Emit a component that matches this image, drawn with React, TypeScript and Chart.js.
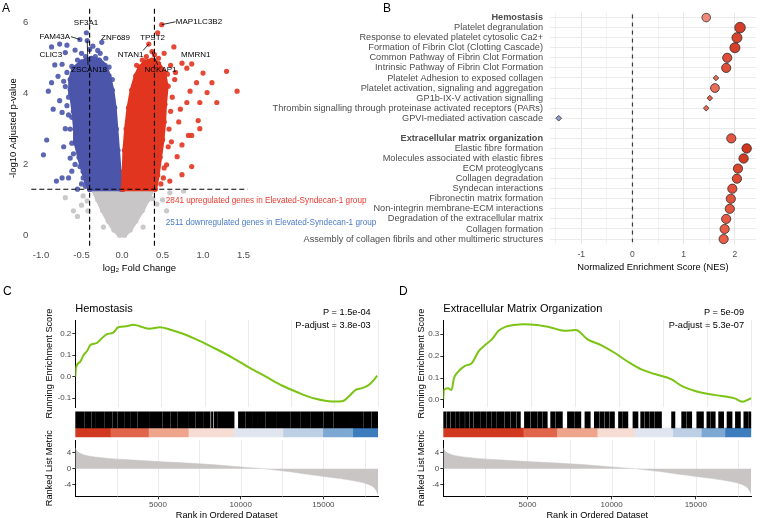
import React, { useEffect, useRef } from 'react';
import { Chart, registerables } from 'chart.js';

Chart.register(...registerables);

const FONT = "'Liberation Sans', Arial, Helvetica, sans-serif";
const AXIS_TEXT = '#4d4d4d';

/* ---------------- A: volcano plot (log2 fold change vs -log10 adjusted p) ---------------- */
const log2fcCutoff = 0.4;
const padjCutoff = 1.3;
const upCount = 2841;
const downCount = 2511;

// outlines of the dense point clouds
const downCloud = [
  [-0.40, 1.30], [-0.44, 1.5], [-0.48, 1.8], [-0.53, 2.2], [-0.57, 2.6], [-0.58, 3.0], [-0.60, 3.5],
  [-0.63, 4.0], [-0.64, 4.4], [-0.60, 4.7], [-0.50, 4.9], [-0.38, 5.0], [-0.28, 4.95], [-0.21, 4.8],
  [-0.16, 4.5], [-0.12, 4.1], [-0.09, 3.6], [-0.07, 3.0], [-0.05, 2.4], [-0.03, 1.8], [-0.01, 1.3],
];
const upCloud = [
  [0.01, 1.3], [0.02, 1.8], [0.03, 2.4], [0.05, 3.0], [0.08, 3.6], [0.12, 4.1], [0.17, 4.5],
  [0.22, 4.75], [0.29, 4.9], [0.37, 4.95], [0.45, 4.85], [0.52, 4.6], [0.55, 4.2], [0.53, 3.7],
  [0.52, 3.2], [0.50, 2.7], [0.47, 2.2], [0.44, 1.7], [0.41, 1.3],
];
const nsCloud = [
  [-0.36, 1.3], [-0.30, 1.0], [-0.24, 0.7], [-0.17, 0.4], [-0.10, 0.15], [-0.03, 0.0], [0.03, 0.0],
  [0.10, 0.15], [0.17, 0.4], [0.25, 0.7], [0.32, 1.0], [0.38, 1.3],
];

// scattered genes outside the dense clouds
const downGenes = [
  [-0.87, 5.32], [-0.68, 5.37], [-0.36, 5.34], [-0.58, 5.23], [-0.27, 5.14], [-0.70, 5.16],
  [-0.50, 5.14], [-0.83, 4.81], [-0.74, 4.83], [-0.62, 4.77], [-0.87, 4.31], [-0.79, 4.49],
  [-0.72, 4.35], [-0.91, 4.07], [-0.64, 4.12], [-0.77, 3.80], [-0.68, 3.66], [-0.74, 3.47],
  [-0.62, 3.33], [-0.85, 3.56], [-0.93, 2.69], [-0.70, 3.01], [-0.56, 2.82], [-0.97, 2.27],
  [-0.72, 2.50], [-0.55, 2.64], [-0.64, 2.18], [-0.52, 1.94], [-0.62, 1.81], [-0.74, 1.62],
  [-0.81, 1.53], [-0.66, 1.62], [-0.55, 1.30], [-0.48, 1.62], [-0.33, 5.05], [-0.40, 5.25],
  [-0.20, 5.0], [-0.60, 4.55], [-0.66, 3.9], [-0.64, 3.0], [-0.60, 2.3], [-0.58, 2.0],
  [-0.45, 5.05], [-0.30, 5.22], [-0.55, 4.95], [-0.68, 4.6], [-0.70, 4.2], [-0.66, 3.4],
  [-0.62, 2.6], [-0.50, 1.45], [-0.45, 1.38], [-0.16, 4.75], [-0.12, 4.4],
];
const upGenes = [
  [0.52, 5.14], [0.74, 4.86], [0.86, 4.84], [0.80, 4.72], [1.00, 4.58], [1.29, 4.63], [1.42, 4.07],
  [0.92, 4.31], [1.11, 4.31], [1.05, 4.03], [0.84, 4.07], [0.80, 3.75], [0.96, 3.75], [1.17, 3.75],
  [0.72, 3.56], [0.94, 3.24], [0.96, 3.01], [0.82, 2.82], [0.65, 4.40], [0.57, 4.21], [0.86, 2.82],
  [0.74, 2.55], [0.61, 2.64], [0.86, 1.94], [0.74, 1.71], [0.59, 1.53], [0.55, 1.99], [0.68, 2.22],
  [0.51, 1.62], [0.60, 4.8], [0.45, 5.0], [0.25, 4.95], [0.62, 3.9], [0.70, 3.2], [0.58, 3.0], [0.66, 4.6],
  [0.30, 5.05], [0.40, 5.1], [0.18, 4.8], [0.56, 4.55], [0.60, 3.5], [0.57, 2.5], [0.52, 1.9], [0.48, 1.45],
];
const nsGenes = [
  [-0.70, 1.06], [-0.60, 0.69], [-0.55, 0.53], [-0.42, 0.69], [-0.43, 0.97], [0.59, 1.20], [0.76, 1.25],
  [0.55, 0.69], [0.43, 0.88], [-0.23, 0.23], [0.26, 0.23], [0.38, 1.03], [-0.48, 1.11], [0.50, 1.0], [-0.50, 0.85],
];

// labelled genes
const labelledGenes = ['MAP1LC3B2', 'TPST2', 'NTAN1', 'NCKAP1', 'MMRN1', 'SF3A1', 'FAM43A', 'ZNF689', 'CLIC3', 'ZSCAN18'];
const labelledFC = [0.49, 0.44, 0.33, 0.37, 0.64, -0.44, -0.52, -0.25, -0.77, -0.43];
const labelledP = [5.95, 5.72, 5.40, 5.19, 5.32, 5.72, 5.53, 5.45, 5.40, 5.50];

/* ---------------- B: NES of Reactome pathways ---------------- */
const headerPathways = ['Hemostasis', 'Extracellular matrix organization'];
const pathwayLabels = [
  'Hemostasis',
  'Platelet degranulation',
  'Response to elevated platelet cytosolic Ca2+',
  'Formation of Fibrin Clot (Clotting Cascade)',
  'Common Pathway of Fibrin Clot Formation',
  'Intrinsic Pathway of Fibrin Clot Formation',
  'Platelet Adhesion to exposed collagen',
  'Platelet activation, signaling and aggregation',
  'GP1b-IX-V activation signalling',
  'Thrombin signalling through proteinase activated receptors (PARs)',
  'GPVI-mediated activation cascade',
  '',
  'Extracellular matrix organization',
  'Elastic fibre formation',
  'Molecules associated with elastic fibres',
  'ECM proteoglycans',
  'Collagen degradation',
  'Syndecan interactions',
  'Fibronectin matrix formation',
  'Non-integrin membrane-ECM interactions',
  'Degradation of the extracellular matrix',
  'Collagen formation',
  'Assembly of collagen fibrils and other multimeric structures',
];
const nesValues: (number | null)[] = [
  1.44, 2.10, 2.04, 2.00, 1.85, 1.83, 1.63, 1.61, 1.51, 1.44, -1.44, null,
  1.93, 2.23, 2.17, 2.06, 2.04, 1.95, 1.92, 1.90, 1.83, 1.80, 1.78,
];
const nesSignificant = [
  true, true, true, true, true, true, false, true, false, false, false, false,
  true, true, true, true, true, true, true, true, true, true, true,
];

/* ---------------- C / D: GSEA running score plots ---------------- */
const rankMax = 18300;

const hemoRank = [0, 40, 280, 480, 720, 920, 1285, 1486, 1888, 2289, 2590, 3092, 3494, 3895, 4498, 5100, 5703, 6506, 7510, 8514, 9518, 10522, 11526, 12530, 13534, 14538, 15542, 16145, 16546, 16948, 17349, 17751, 18052, 18253];
const hemoES = [0, 0.042, 0.068, 0.098, 0.121, 0.148, 0.156, 0.170, 0.197, 0.205, 0.230, 0.235, 0.242, 0.235, 0.223, 0.230, 0.220, 0.200, 0.167, 0.129, 0.088, 0.042, 0.0, -0.042, -0.076, -0.103, -0.115, -0.114, -0.091, -0.061, -0.053, -0.038, -0.015, 0.005];
const hemoHits = [
  [0, 524], [564, 966], [1006, 1227], [1267, 1729], [1769, 2231], [2271, 2532], [2572, 2934], [2974, 3295],
  [3335, 3737], [3777, 4440], [4480, 5243], [5283, 5745], [5785, 6147], [6187, 6850], [6890, 7251],
  [7291, 7753], [7793, 8154], [8230, 8320], [8395, 8556], [8596, 9600], [9861, 10263], [10303, 10665],
  [10705, 10966], [11006, 11468], [11508, 12170], [12210, 12974], [13014, 13576], [13616, 14179],
  [14219, 14982], [15022, 15584], [15624, 16588], [16628, 17391], [17431, 17893], [17933, 18300],
];
const hemoBins = [0, 2150, 4460, 6870, 9580, 12590, 15000, 16810, 18300];

const ecmRank = [0, 30, 290, 490, 630, 890, 1288, 1687, 2086, 2485, 2885, 3284, 3683, 4182, 4781, 5579, 6378, 7176, 7875, 8573, 9372, 10170, 10968, 11767, 12565, 13563, 14162, 14960, 15759, 16557, 17356, 17755, 18300];
const ecmES = [0.003, 0.045, 0.053, 0.045, 0.098, 0.129, 0.155, 0.167, 0.22, 0.25, 0.276, 0.315, 0.333, 0.341, 0.345, 0.341, 0.33, 0.315, 0.318, 0.276, 0.25, 0.215, 0.174, 0.139, 0.118, 0.094, 0.064, 0.041, 0.027, 0.018, 0.006, -0.008, 0.008];
const ecmHits = [
  [0, 165], [215, 405], [455, 724], [774, 963], [1013, 1263], [1313, 1522], [1572, 1762], [1812, 2161],
  [2211, 2560], [2610, 2860], [2910, 3159], [3209, 3598], [3648, 3957], [4007, 4317], [4367, 4581],
  [4821, 5155], [5205, 5554], [5604, 5854], [5904, 6178], [6378, 6652], [6702, 7076], [7376, 7750],
  [7800, 8174], [8414, 8733], [8972, 9247], [9297, 9546], [9596, 9846], [9896, 10170], [10410, 10644],
  [10694, 10968], [11268, 11567], [11727, 11941], [11991, 12241], [12291, 12540], [12590, 12964],
  [13563, 13763], [14162, 14436], [14486, 14761], [15060, 15459], [15659, 15834], [15884, 16158],
  [16358, 16657], [16857, 17156], [17356, 17655], [17855, 18089], [18139, 18300],
];
const ecmBins = [0, 4780, 6780, 9180, 11370, 13670, 15370, 16770, 18300];

const metricRank = [0, 50, 150, 300, 600, 1000, 1500, 2000, 3000, 4000, 5000, 6000, 7000, 8000, 9000, 10000, 11000, 11400, 12000, 13000, 14000, 15000, 16000, 17000, 17600, 18000, 18200, 18300];
const metricValue = [5.3, 4.8, 4.3, 3.9, 3.4, 3.1, 2.8, 2.6, 2.3, 2.05, 1.8, 1.6, 1.35, 1.1, 0.8, 0.45, 0.1, 0.0, -0.3, -0.8, -1.4, -1.95, -2.5, -3.2, -3.8, -4.6, -5.6, -6.6];
const rankTicks = [5000, 10000, 15000];

/* ---------------- styling ---------------- */
const BLUE = '#4b55aa';
const RED = '#e2351f';
const GREY = '#c8c6c6';
const stripColors = ['#d0391f', '#e0654a', '#eea58c', '#f6dcd2', '#e1e5ef', '#bccfe4', '#7ea8d4', '#3d7dbe'];
const nesColors = [
  '#f08a78', '#d43d27', '#d8432d', '#d6402a', '#df4d36', '#df4e37', '#e96c57', '#ec6d58', '#e7604b', '#ea6a55', '#8f9ccc', '',
  '#e4563f', '#cf351f', '#d23a24', '#dc462f', '#df4a33', '#e25039', '#e3533c', '#e4553e', '#e65a43', '#e75c45', '#e85e47',
];
const nesRadius = [4.3, 5.3, 5.0, 5.0, 4.6, 4.6, 2.8, 4.4, 2.8, 2.8, 2.8, 0, 4.6, 4.7, 4.7, 4.6, 4.6, 4.6, 4.6, 4.6, 4.6, 4.6, 4.6];

// label text centre and optional leader end (data units) for the labelled genes
const geneLabelPlacement: { tx: number; ty: number; lx?: number; ly?: number }[] = [
  { tx: 0.95, ty: 6.03, lx: 0.66, ly: 6.03 },
  { tx: 0.377, ty: 5.58 },
  { tx: 0.105, ty: 5.11, lx: 0.26, ly: 5.22 },
  { tx: 0.475, ty: 4.67, lx: 0.44, ly: 4.81 },
  { tx: 0.91, ty: 5.11 },
  { tx: -0.444, ty: 6.0 },
  { tx: -0.83, ty: 5.61, lx: -0.63, ly: 5.61 },
  { tx: -0.08, ty: 5.58 },
  { tx: -0.88, ty: 5.11 },
  { tx: -0.407, ty: 4.67, lx: -0.42, ly: 4.81 },
];

const baseOptions = {
  responsive: false,
  maintainAspectRatio: false,
  animation: false as const,
  devicePixelRatio: 1,
  events: [] as any[],
  plugins: { legend: { display: false }, tooltip: { enabled: false } },
};

const pts = (arr: number[][]) => arr.map(([x, y]) => ({ x, y }));

/* ---------------- A config ---------------- */
const volcanoOverlay = {
  id: 'volcanoOverlay',
  afterDatasetsDraw(chart: any) {
    const { ctx, chartArea: a } = chart;
    const sx = chart.scales.x;
    const sy = chart.scales.y;
    ctx.save();
    ctx.strokeStyle = '#000';
    ctx.lineWidth = 1.1;
    ctx.setLineDash([5, 3]);
    for (const v of [-log2fcCutoff, log2fcCutoff]) {
      const px = sx.getPixelForValue(v);
      ctx.beginPath();
      ctx.moveTo(px, a.top);
      ctx.lineTo(px, a.bottom);
      ctx.stroke();
    }
    const py = sy.getPixelForValue(padjCutoff);
    ctx.beginPath();
    ctx.moveTo(a.left, py);
    ctx.lineTo(a.right, py);
    ctx.stroke();
    ctx.setLineDash([]);

    ctx.lineWidth = 0.8;
    ctx.font = `8px ${FONT}`;
    ctx.fillStyle = '#000';
    ctx.textAlign = 'center';
    ctx.textBaseline = 'middle';
    labelledGenes.forEach((g, i) => {
      const p = geneLabelPlacement[i];
      if (p.lx !== undefined && p.ly !== undefined) {
        ctx.beginPath();
        ctx.moveTo(sx.getPixelForValue(labelledFC[i]), sy.getPixelForValue(labelledP[i]));
        ctx.lineTo(sx.getPixelForValue(p.lx), sy.getPixelForValue(p.ly));
        ctx.stroke();
      }
      ctx.fillText(g, sx.getPixelForValue(p.tx), sy.getPixelForValue(p.ty));
    });

    ctx.textAlign = 'left';
    ctx.font = `8.2px ${FONT}`;
    ctx.fillStyle = '#e8392d';
    ctx.fillText(`${upCount} upregulated genes in Elevated-Syndecan-1 group`, sx.getPixelForValue(0.54), sy.getPixelForValue(0.97));
    ctx.fillStyle = '#4a7bc6';
    ctx.fillText(`${downCount} downregulated genes in Elevated-Syndecan-1 group`, sx.getPixelForValue(0.54), sy.getPixelForValue(0.36));
    ctx.restore();
  },
};

function cloud(arr: number[][], color: string, order: number) {
  return {
    data: pts([...arr, arr[0]]),
    showLine: true,
    fill: 'shape',
    backgroundColor: color,
    borderColor: color,
    borderWidth: 4,
    borderJoinStyle: 'round',
    pointRadius: 2.6,
    pointBackgroundColor: color,
    pointBorderWidth: 0,
    order,
  };
}

function dots(arr: number[][], color: string, order: number) {
  return { data: pts(arr), backgroundColor: color, borderWidth: 0, pointRadius: 2.6, order };
}

function volcanoConfig(): any {
  const downLab: number[][] = [];
  const upLab: number[][] = [];
  labelledFC.forEach((fc, i) => (fc < 0 ? downLab : upLab).push([fc, labelledP[i]]));
  return {
    type: 'scatter',
    data: {
      datasets: [
        cloud(nsCloud, GREY, 8),
        dots(nsGenes, 'rgba(196,194,194,0.9)', 7),
        cloud(downCloud, BLUE, 6),
        cloud(upCloud, RED, 5),
        dots(downGenes.concat(downLab), 'rgba(75,85,170,0.9)', 2),
        dots(upGenes.concat(upLab), 'rgba(226,53,31,0.9)', 1),
      ],
    },
    options: {
      ...baseOptions,
      layout: { padding: { left: 4, top: 4.6, right: 132.4, bottom: 2.4 } },
      scales: {
        x: {
          type: 'linear', min: -1.12, max: 1.55,
          grid: { display: false, drawTicks: false }, border: { display: false },
          ticks: {
            stepSize: 0.5, includeBounds: false, padding: 2, maxRotation: 0,
            color: AXIS_TEXT, font: { family: FONT, size: 9.5 },
            callback: (v: any) => Number(v).toFixed(1),
          },
          title: { display: true, text: 'log₂ Fold Change', color: '#000', font: { family: FONT, size: 9.5 }, padding: { top: 2, bottom: 4 } },
          afterFit: (s: any) => { s.height = 30; },
        },
        y: {
          type: 'linear', min: -0.35, max: 6.4,
          grid: { display: false, drawTicks: false }, border: { display: false },
          ticks: { stepSize: 2, includeBounds: false, padding: 3, color: AXIS_TEXT, font: { family: FONT, size: 9.5 } },
          title: { display: true, text: '-log10 Adjusted p-value', color: '#000', font: { family: FONT, size: 9.5 }, padding: { top: 4, bottom: 2 } },
          afterFit: (s: any) => { s.width = 27.3; },
        },
      },
    },
    plugins: [volcanoOverlay],
  };
}

/* ---------------- B config ---------------- */
const zeroLine = {
  id: 'zeroLine',
  beforeDatasetsDraw(chart: any) {
    const { ctx, chartArea: a } = chart;
    const px = chart.scales.x.getPixelForValue(0);
    ctx.save();
    ctx.strokeStyle = '#3a3a3a';
    ctx.lineWidth = 1.2;
    ctx.setLineDash([4, 4]);
    ctx.beginPath();
    ctx.moveTo(px, a.top + 2);
    ctx.lineTo(px, a.bottom - 2);
    ctx.stroke();
    ctx.restore();
  },
};

function nesConfig(): any {
  const idx = pathwayLabels.map((_, i) => i).filter((i) => nesValues[i] !== null);
  return {
    type: 'scatter',
    data: {
      datasets: [{
        data: idx.map((i) => ({ x: nesValues[i], y: pathwayLabels[i] })),
        backgroundColor: idx.map((i) => nesColors[i]),
        pointStyle: idx.map((i) => (nesSignificant[i] ? 'circle' : 'rectRot')),
        pointRadius: idx.map((i) => nesRadius[i]),
        borderColor: '#2b2b2b',
        borderWidth: 0.8,
      }],
    },
    options: {
      ...baseOptions,
      layout: { padding: { left: 0, top: 9.9, right: 0, bottom: 3.4 } },
      scales: {
        x: {
          type: 'linear', min: -1.61, max: 2.41,
          ticks: {
            stepSize: 0.5, includeBounds: false, autoSkip: false, maxRotation: 0, padding: 5.8,
            color: AXIS_TEXT, font: { family: FONT, size: 8.5 },
            callback: (v: any) => (Number.isInteger(Number(v)) ? String(v) : ''),
          },
          grid: {
            drawTicks: false,
            color: (c: any) => (c.tick && Number.isInteger(c.tick.value) ? '#e6e6e6' : '#f2f2f2'),
          },
          border: { display: false },
          title: { display: true, text: 'Normalized Enrichment Score (NES)', color: '#000', font: { family: FONT, size: 9.3 }, padding: { top: 2, bottom: 4 } },
          afterFit: (s: any) => { s.height = 32.5; },
        },
        y: {
          type: 'category', labels: pathwayLabels, offset: true,
          grid: { color: '#ebebeb', offset: false, drawTicks: false },
          border: { display: false },
          ticks: {
            autoSkip: false, padding: 7, color: AXIS_TEXT,
            font: (c: any) => ({ family: FONT, size: 9.2, weight: c.tick && headerPathways.includes(c.tick.label) ? 'bold' : 'normal' }),
          },
          afterFit: (s: any) => { s.width = 320; },
        },
      },
    },
    plugins: [zeroLine],
  };
}

/* ---------------- C / D configs ---------------- */
interface GseaSpec {
  left: number; yTitleX: number; plotL: number; plotR: number; esMin: number; esMax: number;
  rank: number[]; es: number[]; hits: number[][]; bins: number[];
  title: string; pText: string; padjText: string;
}

const gseaSpecs: GseaSpec[] = [
  {
    left: 0, yTitleX: 49, plotL: 75.3, plotR: 378, esMin: -0.141, esMax: 0.264,
    rank: hemoRank, es: hemoES, hits: hemoHits, bins: hemoBins,
    title: 'Hemostasis', pText: 'P = 1.5e-04', padjText: 'P-adjust = 3.8e-03',
  },
  {
    left: 381, yTitleX: 421.5, plotL: 443.3, plotR: 751.3, esMin: -0.032, esMax: 0.364,
    rank: ecmRank, es: ecmES, hits: ecmHits, bins: ecmBins,
    title: 'Extracellular Matrix Organization', pText: 'P = 5e-09', padjText: 'P-adjust = 5.3e-07',
  },
];

const GSEA_W = 381;

function yLayout(s: GseaSpec) {
  const padL = s.yTitleX - s.left - 4 - 9.2 * 0.6;
  return { padL, yW: s.plotL - s.left - padL, padR: s.left + GSEA_W - s.plotR };
}

function gseaHeader(s: GseaSpec) {
  return {
    id: 'gseaHeader',
    afterDraw(chart: any) {
      const { ctx } = chart;
      const x0 = s.plotL - s.left;
      const x1 = s.plotR - s.left - 7.3;
      ctx.save();
      ctx.fillStyle = '#000';
      ctx.textBaseline = 'middle';
      ctx.font = `11px ${FONT}`;
      ctx.textAlign = 'left';
      ctx.fillText(s.title, x0, 19.3);
      ctx.font = `9.2px ${FONT}`;
      ctx.textAlign = 'right';
      ctx.fillText(s.pText, x1, 22.3);
      ctx.fillText(s.padjText, x1, 35);
      ctx.restore();
    },
  };
}

function esConfig(s: GseaSpec): any {
  const { padL, yW, padR } = yLayout(s);
  return {
    type: 'line',
    data: {
      datasets: [{
        data: s.rank.map((r, i) => ({ x: r, y: s.es[i] })),
        borderColor: '#7bc414', borderWidth: 2, pointRadius: 0, fill: false,
        cubicInterpolationMode: 'monotone',
      }],
    },
    options: {
      ...baseOptions,
      layout: { padding: { left: padL, right: padR, top: 30, bottom: 23 } },
      scales: {
        x: {
          type: 'linear', min: 0, max: rankMax,
          ticks: { display: false, stepSize: 2500, includeBounds: false },
          grid: { color: '#ebebeb', drawTicks: false },
          border: { display: false },
          afterFit: (sc: any) => { sc.height = 0; },
        },
        y: {
          type: 'linear', min: s.esMin, max: s.esMax,
          ticks: {
            stepSize: 0.1, includeBounds: false, padding: 1, color: AXIS_TEXT, font: { family: FONT, size: 8 },
            callback: (v: any) => Number(v).toFixed(1),
          },
          grid: { drawOnChartArea: false, tickLength: 3, tickColor: '#333' },
          border: { display: true, color: '#000', width: 1 },
          title: { display: true, text: 'Running Enrichment Score', color: '#000', font: { family: FONT, size: 9.2 }, padding: { top: 4, bottom: 2 } },
          afterFit: (sc: any) => { sc.width = yW; },
        },
      },
    },
    plugins: [gseaHeader(s)],
  };
}

function barcodeConfig(s: GseaSpec): any {
  const { padR } = yLayout(s);
  const binRuns = s.bins.slice(0, -1).map((b, i) => ({ x: [b, s.bins[i + 1]], y: 'strip' }));
  return {
    type: 'bar',
    data: {
      labels: ['hits', 'strip'],
      datasets: [
        { data: s.hits.map(([a, b]) => ({ x: [a, b], y: 'hits' })), backgroundColor: '#000', grouped: false, barThickness: 19, borderWidth: 0 },
        { data: binRuns, backgroundColor: stripColors, grouped: false, barThickness: 9, borderWidth: 0 },
      ],
    },
    options: {
      ...baseOptions,
      indexAxis: 'y',
      layout: { padding: { left: s.plotL - s.left, right: padR, top: 11.5, bottom: 5.5 } },
      scales: {
        x: { type: 'linear', min: 0, max: rankMax, display: false },
        y: { type: 'category', offset: true, display: false },
      },
    },
  };
}

// vertical guide lines of the ranked-metric panel, every 2500 ranks
const rankGrid = {
  id: 'rankGrid',
  beforeDatasetsDraw(chart: any) {
    const { ctx, chartArea: a } = chart;
    const sx = chart.scales.x;
    ctx.save();
    ctx.strokeStyle = '#ebebeb';
    ctx.lineWidth = 1;
    for (let r = 2500; r < rankMax; r += 2500) {
      const px = Math.round(sx.getPixelForValue(r)) + 0.5;
      ctx.beginPath();
      ctx.moveTo(px, a.top);
      ctx.lineTo(px, a.bottom);
      ctx.stroke();
    }
    ctx.restore();
  },
};

function metricConfig(s: GseaSpec): any {
  const { padL, yW, padR } = yLayout(s);
  return {
    type: 'line',
    data: {
      datasets: [{
        data: metricRank.map((r, i) => ({ x: r, y: metricValue[i] })),
        fill: 'origin', backgroundColor: '#c9c5c5', borderColor: '#c9c5c5', borderWidth: 0.5,
        pointRadius: 0, cubicInterpolationMode: 'monotone',
      }],
    },
    options: {
      ...baseOptions,
      layout: { padding: { left: padL, right: padR, top: 10, bottom: 0 } },
      scales: {
        x: {
          type: 'linear', min: 0, max: rankMax,
          afterBuildTicks: (sc: any) => { sc.ticks = rankTicks.map((v) => ({ value: v })); },
          ticks: {
            autoSkip: false, maxRotation: 0, padding: 0.5,
            color: AXIS_TEXT, font: { family: FONT, size: 8 },
            callback: (v: any) => String(v),
          },
          grid: { drawOnChartArea: false, tickLength: 3, tickColor: '#333' },
          border: { display: true, color: '#000', width: 1 },
          title: { display: true, text: 'Rank in Ordered Dataset', color: '#000', font: { family: FONT, size: 9.2 }, padding: { top: 0, bottom: 0 } },
        },
        y: {
          type: 'linear', min: -7, max: 7.25,
          ticks: { stepSize: 4, includeBounds: false, padding: 1, color: AXIS_TEXT, font: { family: FONT, size: 8 } },
          grid: { drawOnChartArea: false, tickLength: 3, tickColor: '#333' },
          border: { display: true, color: '#000', width: 1 },
          title: { display: true, text: 'Ranked List Metric', color: '#000', font: { family: FONT, size: 9.2 }, padding: { top: 4, bottom: 2 } },
          afterFit: (sc: any) => { sc.width = yW; },
        },
      },
    },
    plugins: [rankGrid],
  };
}

/* ---------------- components ---------------- */
function ChartBox({ x, y, w, h, make }: { x: number; y: number; w: number; h: number; make: () => any }) {
  const ref = useRef<HTMLCanvasElement>(null);
  useEffect(() => {
    const chart = new Chart(ref.current as HTMLCanvasElement, make());
    return () => chart.destroy();
  }, []);
  return <canvas ref={ref} width={w} height={h} style={{ position: 'absolute', left: x, top: y, width: w, height: h }} />;
}

function PanelTag({ x, y, text }: { x: number; y: number; text: string }) {
  return (
    <div style={{ position: 'absolute', left: x, top: y, fontFamily: FONT, fontSize: 12, lineHeight: '14px', color: '#000' }}>
      {text}
    </div>
  );
}

export default function App() {
  return (
    <div style={{ position: 'fixed', left: 0, top: 0, width: 762, height: 518, overflow: 'hidden', background: '#fff' }}>
      <ChartBox x={0} y={0} w={380} h={280} make={volcanoConfig} />
      <ChartBox x={230} y={0} w={532} h={280} make={nesConfig} />
      {gseaSpecs.map((s, i) => (
        <React.Fragment key={i}>
          <ChartBox x={s.left} y={290} w={GSEA_W} h={140} make={() => esConfig(s)} />
          <ChartBox x={s.left} y={400} w={GSEA_W} h={45} make={() => barcodeConfig(s)} />
          <ChartBox x={s.left} y={430} w={GSEA_W} h={91} make={() => metricConfig(s)} />
        </React.Fragment>
      ))}
      <PanelTag x={2} y={1} text="A" />
      <PanelTag x={383} y={1} text="B" />
      <PanelTag x={3} y={284} text="C" />
      <PanelTag x={399} y={284} text="D" />
    </div>
  );
}
